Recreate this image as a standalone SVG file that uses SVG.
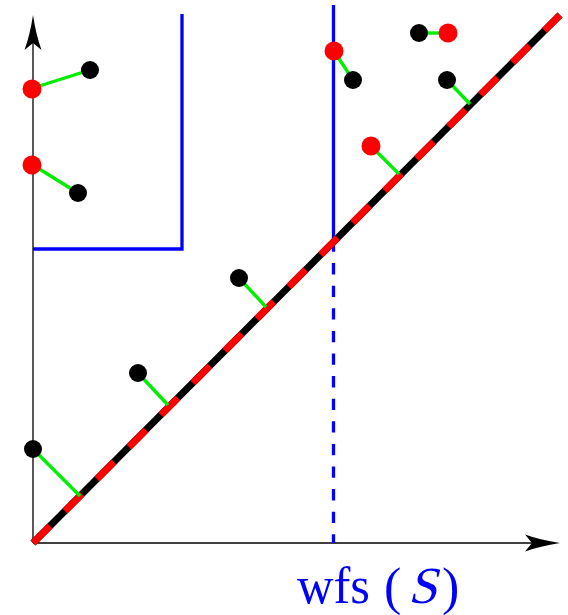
<svg xmlns="http://www.w3.org/2000/svg" width="568" height="615" viewBox="0 0 568 615">
<style>
.axis{stroke:#000;stroke-width:1.3;fill:none}
.blue{stroke:#0000ff;stroke-width:3.3;fill:none}
.green{stroke:#00ee00;stroke-width:3.4;fill:none}
.bk{fill:#000}
.rd{fill:#ff0000}
.lbl{font-family:"Liberation Serif","DejaVu Serif",serif;font-size:52px;fill:#0000ff}
</style>
<rect width="568" height="615" fill="#fff"/>
<g id="axes">
<line class="axis" x1="33" y1="543" x2="33" y2="40"/>
<line class="axis" x1="33" y1="543" x2="535" y2="543"/>
<path d="M33,15 Q36,35 41.5,50 L33,43 L24.5,50 Q30,35 33,15Z" fill="#000"/>
<path d="M560,543 Q540,546 525,551.5 L532,543 L525,534.5 Q540,540 560,543Z" fill="#000"/>
</g>
<g id="blue-lines">
<polyline class="blue" points="182,14 182,249 33,249"/>
<line class="blue" x1="333.5" y1="5" x2="333.5" y2="243"/>
<line class="blue" x1="333.5" y1="240.5" x2="333.5" y2="543" stroke-dasharray="11.3 11.3"/>
</g>
<g id="diagonal">
<line x1="33" y1="543" x2="560" y2="15" stroke="#000" stroke-width="7"/>
<line x1="33" y1="543" x2="560" y2="15" stroke="#ff0000" stroke-width="7" stroke-dasharray="24 21.25"/>
</g>
<g id="connectors">
<line class="green" x1="33" y1="88" x2="90" y2="70"/>
<line class="green" x1="33" y1="165" x2="78" y2="193"/>
<line class="green" x1="33" y1="449" x2="80" y2="496"/>
<line class="green" x1="138" y1="373" x2="168" y2="405"/>
<line class="green" x1="239" y1="278" x2="266" y2="307"/>
<line class="green" x1="334" y1="51" x2="353" y2="80"/>
<line class="green" x1="419" y1="33" x2="448" y2="33"/>
<line class="green" x1="447" y1="80" x2="470" y2="104"/>
<line class="green" x1="371" y1="146" x2="399" y2="174"/>
</g>
<g id="n1"><circle class="rd" cx="32" cy="89" r="9.5"/></g>
<g id="n2"><circle class="bk" cx="90" cy="70" r="9"/></g>
<g id="n3"><circle class="rd" cx="32" cy="165" r="9.5"/></g>
<g id="n4"><circle class="bk" cx="78" cy="193" r="9"/></g>
<g id="n5"><circle class="bk" cx="33" cy="449" r="9"/></g>
<g id="n6"><circle class="bk" cx="138" cy="373" r="9"/></g>
<g id="n7"><circle class="bk" cx="239" cy="278" r="9"/></g>
<g id="n8"><circle class="rd" cx="334" cy="51" r="9.5"/></g>
<g id="n9"><circle class="bk" cx="353" cy="80" r="9"/></g>
<g id="n10"><circle class="bk" cx="419" cy="33" r="9"/></g>
<g id="n11"><circle class="rd" cx="448" cy="33" r="9.5"/></g>
<g id="n12"><circle class="bk" cx="447" cy="80" r="9"/></g>
<g id="n13"><circle class="rd" cx="371" cy="146" r="9.5"/></g>
<g id="label">
<text class="lbl" x="297" y="603" textLength="73" lengthAdjust="spacingAndGlyphs">wfs</text>
<text class="lbl" x="384" y="604" font-size="60">(</text>
<text class="lbl" x="0" y="0" transform="translate(408,603) skewX(-14)">S</text>
<text class="lbl" x="442" y="604" font-size="60">)</text>
</g>
</svg>
